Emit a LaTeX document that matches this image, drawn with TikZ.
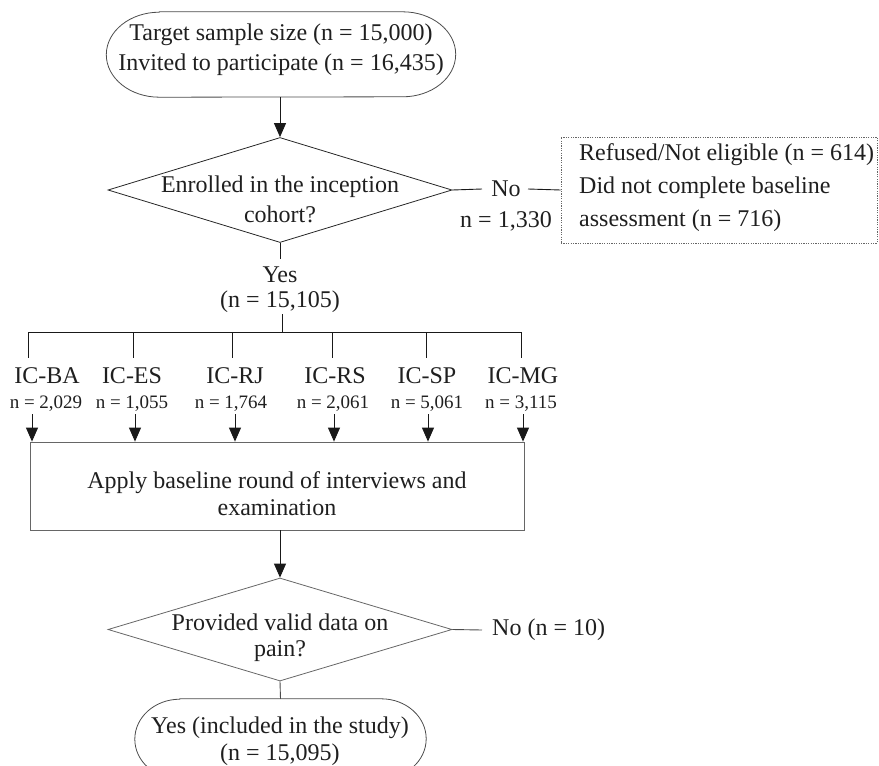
\documentclass[tikz,border=0pt]{standalone}
\usepackage{fontspec}
\setmainfont{Liberation Serif}
\usetikzlibrary{shapes.geometric,arrows.meta}
\begin{document}
\begin{tikzpicture}[x=1pt,y=-1pt,
  txt/.style={inner sep=0pt, text=black!88, font=\fontsize{24}{30}\selectfont, align=center},
  small/.style={inner sep=0pt, text=black!88, font=\fontsize{19}{22}\selectfont},
  term/.style={rectangle, inner sep=0pt},
  termline/.style={draw=black!70, line width=0.8pt},
  dec/.style={diamond, draw=#1, line width=0.8pt, inner sep=0pt, minimum width=344pt},
  ln/.style={draw=black!90, line width=0.9pt},
  arr/.style={ln, -{Triangle[length=14pt,width=12pt]}},
]
\useasboundingbox (0,0) rectangle (879,766);
\clip (0,0) rectangle (879,766);

% top terminator
\node[term, minimum width=349pt, minimum height=85pt] (t1) at (281,54.5) {};
\draw[termline] ([xshift=53pt]t1.north west) -- ([xshift=-53pt]t1.north east)
  arc[start angle=90, end angle=-90, x radius=53pt, y radius=42.5pt]
  -- ([xshift=53pt]t1.south west)
  arc[start angle=270, end angle=90, x radius=53pt, y radius=42.5pt] -- cycle;
\node[txt] (t1txt) at (281,50) {Target sample size (n = 15,000)\\Invited to participate (n = 16,435)};

% decision 1
\node[dec=black!85, minimum height=105pt] (d1) at (280,190) {};
\node[txt] (d1txt) at (280,199) {Enrolled in the inception\\cohort?};
\draw[arr] (t1.south -| d1.north) -- (d1.north);

% No branch
\node[txt] (no1) at (506,189) {No};
\node[txt] (n1330) at (506,221) {n = 1,330};
\node[draw=black!60, dash pattern=on 1.2pt off 1.2pt, line width=0.7pt, minimum width=316pt, minimum height=106pt, inner sep=0pt] (ex1) at (719,190) {};
\node[txt, align=left, anchor=west, font=\fontsize{24}{33}\selectfont] (ex1txt) at (579,188) {Refused/Not eligible (n = 614)\\Did not complete baseline\\assessment (n = 716)};
\draw[ln] (d1.east) -- (no1.west -| 482,0);
\draw[ln] (no1.east -| 528,0) -- (ex1.west);

% Yes
\node[txt] (yes1) at (280,275) {Yes};
\node[txt] (n15105) at (280,302) {(n = 15,105)};
\draw[ln] (d1.south) -- (280,259);
\coordinate (bc) at (282,332);
\draw[ln] (282,314) -- (bc);

% bracket
\coordinate (b1) at (28,332);
\coordinate (b2) at (133,332);
\coordinate (b3) at (232,332);
\coordinate (b4) at (332,332);
\coordinate (b5) at (426,332);
\coordinate (b6) at (521,332);
\draw[ln] (b1) -- (b6);
\foreach \b in {b1,b2,b3,b4,b5,b6} \draw[ln] (\b) -- ++(0,26);

% centres
\node[txt] (ba) at (47,376) {IC-BA};
\node[txt] (es) at (132,376) {IC-ES};
\node[txt] (rj) at (235,376) {IC-RJ};
\node[txt] (rs) at (335,376) {IC-RS};
\node[txt] (sp) at (427,376) {IC-SP};
\node[txt] (mg) at (523,376) {IC-MG};
\node[small] (nba) at (46,404) {n = 2,029};
\node[small] (nes) at (132,404) {n = 1,055};
\node[small] (nrj) at (231,404) {n = 1,764};
\node[small] (nrs) at (333,404) {n = 2,061};
\node[small] (nsp) at (427,404) {n = 5,061};
\node[small] (nmg) at (521,404) {n = 3,115};

% baseline box
\node[draw=black!60, line width=0.8pt, minimum width=494pt, minimum height=88pt, inner sep=0pt] (box) at (277,486) {};
\node[txt, font=\fontsize{24}{27}\selectfont] (boxtxt) at (277,494) {Apply baseline round of interviews and\\examination};

\foreach \x/\n in {32/a1,135/a2,235/a3,334/a4,428/a5,523/a6} {
  \coordinate (\n) at (\x,414);
  \draw[arr] (\n) -- (\n |- box.north);
}

% decision 2
\node[dec=black!60, minimum height=103pt] (d2) at (280,629.5) {};
\node[txt, font=\fontsize{24}{26}\selectfont] (d2txt) at (280,638) {Provided valid data on\\pain?};
\draw[arr] (box.south -| d2.north) -- (d2.north);
\node[txt, anchor=west] (no2) at (492,630) {No (n = 10)};
\draw[ln, draw=black!70] (d2.east) -- (no2.west -| 482,0);

% bottom terminator
\node[term, minimum width=291pt, minimum height=80pt] (t2) at (280.5,739) {};
\draw[termline] ([xshift=45pt]t2.north west) -- ([xshift=-45pt]t2.north east)
  arc[start angle=90, end angle=-90, x radius=45pt, y radius=40pt]
  -- ([xshift=45pt]t2.south west)
  arc[start angle=270, end angle=90, x radius=45pt, y radius=40pt] -- cycle;
\node[txt, font=\fontsize{24}{27}\selectfont] (t2txt) at (280,741.5) {Yes (included in the study)\\(n = 15,095)};
\draw[ln, draw=black!70] (d2.south) -- (t2.north);
\end{tikzpicture}
\end{document}
